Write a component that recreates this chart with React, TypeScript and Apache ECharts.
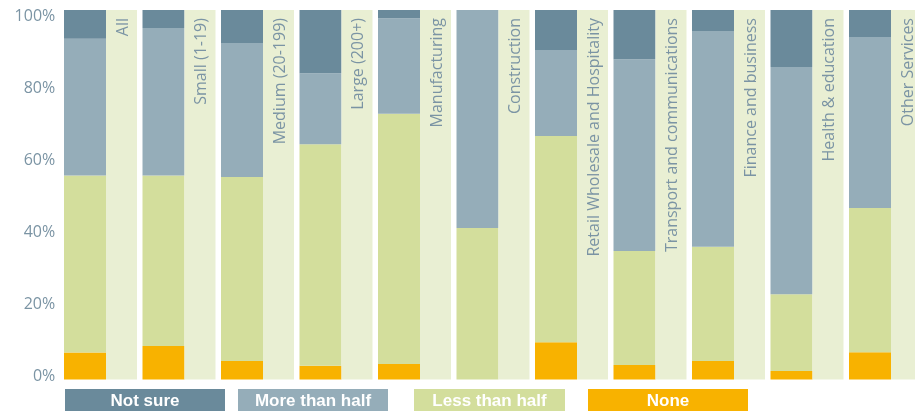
import React, { useEffect, useRef } from "react";
import * as echarts from "echarts";

const categories = [
  "All",
  "Small (1-19)",
  "Medium (20-199)",
  "Large (200+)",
  "Manufacturing",
  "Construction",
  "Retail Wholesale and Hospitality",
  "Transport and communications",
  "Finance and business",
  "Health & education",
  "Other Services",
];
const none = [7.3, 9.1, 5.0, 3.7, 4.2, 0, 10.1, 3.9, 5.0, 2.3, 7.4];
const lessThanHalf = [47.9, 46.1, 49.8, 60.0, 67.7, 41.0, 55.8, 30.9, 30.9, 20.8, 39.0];
const moreThanHalf = [37.0, 39.9, 36.3, 19.2, 25.9, 59.0, 23.3, 51.9, 58.4, 61.5, 46.3];
const notSure = [7.8, 4.9, 8.9, 17.1, 2.2, 0, 10.8, 13.3, 5.7, 15.4, 7.3];
const background = categories.map(() => 100);
const yTicks = [0, 20, 40, 60, 80, 100];
const legendNames = ["Not sure", "More than half", "Less than half", "None"];

const COLORS = {
  notSure: "#6a8a9b",
  more: "#95adb9",
  less: "#d3de9c",
  none: "#f8b200",
  bg: "#e9efd3",
  text: "#7b94a4",
};

export default function App() {
  const ref = useRef<HTMLDivElement>(null);
  useEffect(() => {
    if (!ref.current) return;
    const chart = echarts.init(ref.current, null, { renderer: "svg" });
    const barW = 42;
    const bgW = 31;
    const legendBoxes = [
      { x: 65, w: 160, color: COLORS.notSure },
      { x: 238, w: 150, color: COLORS.more },
      { x: 414, w: 151, color: COLORS.less },
      { x: 588, w: 160, color: COLORS.none },
    ];
    const graphic: any[] = [];
    legendBoxes.forEach((b, i) => {
      graphic.push({
        type: "rect",
        shape: { x: b.x, y: 389, width: b.w, height: 22 },
        style: { fill: b.color },
      });
      graphic.push({
        type: "text",
        x: b.x + b.w / 2,
        y: 400.5,
        style: {
          text: legendNames[i],
          fill: "#ffffff",
          font: "bold 17px 'Liberation Sans', Arial, sans-serif",
          align: "center",
          verticalAlign: "middle",
        },
      });
    });
    const stackSeries = (name: string, data: number[], color: string) => ({
      name,
      type: "bar",
      stack: "a",
      data,
      barWidth: barW,
      barGap: "0%",
      itemStyle: { color },
      xAxisIndex: 0,
      yAxisIndex: 0,
    });
    chart.setOption({
      animation: false,
      grid: [
        { left: 61.25, width: 863.5, top: 10, height: 369.5 },
        { left: 61.25, width: 10, top: 15, height: 360 },
      ],
      xAxis: [
        {
          type: "category",
          data: categories,
          gridIndex: 0,
          axisLine: { show: false },
          axisTick: { show: false },
          axisLabel: { show: false },
        },
        { type: "value", gridIndex: 1, show: false, min: 0, max: 1 },
      ],
      yAxis: [
        {
          type: "value",
          gridIndex: 0,
          min: 0,
          max: 100,
          show: false,
          splitLine: { show: false },
        },
        {
          type: "value",
          gridIndex: 1,
          min: 0,
          max: 100,
          interval: 20,
          axisLine: { show: false },
          axisTick: { show: false },
          splitLine: { show: false },
          axisLabel: {
            formatter: (v: number) => (yTicks.includes(v) ? v + "%" : ""),
            color: COLORS.text,
            fontSize: 16,
            fontFamily: "'Open Sans', 'Noto Sans', sans-serif",
            margin: 6,
          },
        },
      ],
      series: [
        stackSeries("None", none, COLORS.none),
        stackSeries("Less than half", lessThanHalf, COLORS.less),
        stackSeries("More than half", moreThanHalf, COLORS.more),
        stackSeries("Not sure", notSure, COLORS.notSure),
        {
          name: "bg",
          type: "bar",
          stack: "b",
          data: background,
          barWidth: bgW,
          barGap: "0%",
          itemStyle: { color: COLORS.bg },
          xAxisIndex: 0,
          yAxisIndex: 0,
          label: {
            show: true,
            formatter: (p: any) => p.name,
            position: ["50%", 8],
            rotate: 90,
            align: "right",
            verticalAlign: "middle",
            color: COLORS.text,
            fontSize: 16,
            lineHeight: 14,
            fontFamily: "'Open Sans', 'Noto Sans', sans-serif",
          },
        },
      ],
      graphic,
    });
    return () => chart.dispose();
  }, []);
  return (
    <div
      style={{
        position: "fixed",
        left: 0,
        top: 0,
        width: 915,
        height: 411,
        overflow: "hidden",
      }}
    >
      <div ref={ref} style={{ width: 930, height: 411 }} />
    </div>
  );
}
